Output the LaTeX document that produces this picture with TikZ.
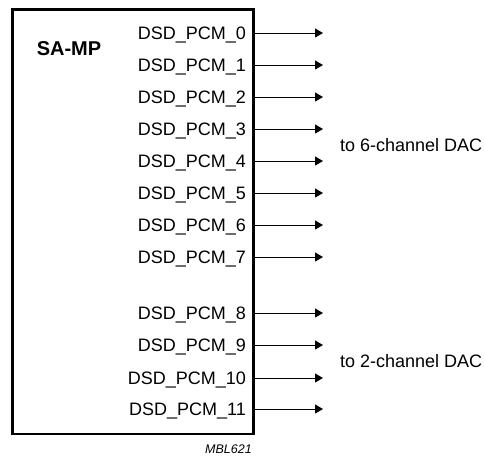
\documentclass[tikz,border=0pt]{standalone}
\usepackage{fontspec}
\setmainfont{Liberation Sans}
\usetikzlibrary{arrows.meta}
\begin{document}
\begin{tikzpicture}[x=1pt,y=-1pt,
  sig/.style={anchor=base east,inner sep=0pt,font=\fontsize{18}{20}\selectfont},
  outarrow/.style={-{Triangle[length=8pt,width=9pt]},line width=1pt},
  dac/.style={anchor=base west,inner sep=0pt,font=\fontsize{18}{20}\selectfont}]
\useasboundingbox (0,0) rectangle (485,456);
\node[draw,line width=2.5pt,minimum width=241pt,minimum height=424.5pt,anchor=north west,inner sep=0pt] (box) at (11,8) {};
\node[anchor=base,inner sep=0pt,font=\fontsize{20}{22}\selectfont\bfseries] (title) at (69,55) {SA-MP};
\foreach \i/\y in {0/33,1/65,2/97,3/129,4/161,5/193,6/225,7/257,8/313,9/345,10/378,11/409}{
  \node[sig] (l\i) at (246,\y+6.3) {DSD\_PCM\_\i};
  \coordinate (s\i) at (252,\y);
  \coordinate (e\i) at (323,\y);
  \draw[outarrow] (s\i) -- (e\i);
}
\node[dac] (d6) at (340,151.3) {to 6-channel DAC};
\node[dac] (d2) at (340,367.3) {to 2-channel DAC};
\node[anchor=base east,inner sep=0pt,font=\fontsize{12.5}{14}\selectfont\itshape] (ref) at (252,453) {MBL621};
\end{tikzpicture}
\end{document}
